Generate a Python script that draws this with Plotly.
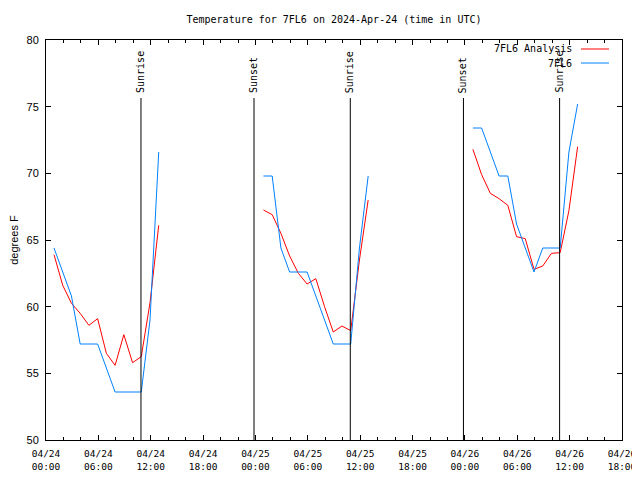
import plotly.graph_objects as go

# ---- data ----
day1_times = ["2024-04-24 00:55", "2024-04-24 01:55", "2024-04-24 02:55", "2024-04-24 03:55",
              "2024-04-24 04:55", "2024-04-24 05:55", "2024-04-24 06:55", "2024-04-24 07:55",
              "2024-04-24 08:55", "2024-04-24 09:55", "2024-04-24 10:55", "2024-04-24 11:55",
              "2024-04-24 12:55"]
day2_times = ["2024-04-25 00:55", "2024-04-25 01:55", "2024-04-25 02:55", "2024-04-25 03:55",
              "2024-04-25 04:55", "2024-04-25 05:55", "2024-04-25 06:55", "2024-04-25 07:55",
              "2024-04-25 08:55", "2024-04-25 09:55", "2024-04-25 10:55", "2024-04-25 11:55",
              "2024-04-25 12:55"]
day3_times = ["2024-04-26 00:55", "2024-04-26 01:55", "2024-04-26 02:55", "2024-04-26 03:55",
              "2024-04-26 04:55", "2024-04-26 05:55", "2024-04-26 06:55", "2024-04-26 07:55",
              "2024-04-26 08:55", "2024-04-26 09:55", "2024-04-26 10:55", "2024-04-26 11:55",
              "2024-04-26 12:55"]

analysis_day1 = [63.9, 61.6, 60.25, 59.5, 58.6, 59.1, 56.5, 55.6, 57.9, 55.8, 56.25, 60.3, 66.1]
analysis_day2 = [67.25, 66.9, 65.5, 63.8, 62.5, 61.7, 62.1, 60.0, 58.1, 58.55, 58.2, 63.5, 68.0]
analysis_day3 = [71.8, 69.9, 68.5, 68.1, 67.6, 65.25, 65.1, 62.8, 63.05, 64.0, 64.05, 67.2, 72.0]

obs_day1 = [64.4, 62.6, 60.8, 57.2, 57.2, 57.2, 55.4, 53.6, 53.6, 53.6, 53.6, 59.0, 71.6]
obs_day2 = [69.8, 69.8, 64.4, 62.6, 62.6, 62.6, 60.8, 59.0, 57.2, 57.2, 57.2, 64.4, 69.8]
obs_day3 = [73.4, 73.4, 71.6, 69.8, 69.8, 66.2, 64.4, 62.6, 64.4, 64.4, 64.4, 71.6, 75.2]

event_times = ["2024-04-24 10:53", "2024-04-24 23:50", "2024-04-25 10:52",
               "2024-04-25 23:50", "2024-04-26 10:51"]
event_labels = ["Sunrise", "Sunset", "Sunrise", "Sunset", "Sunrise"]

series_names = ["7FL6 Analysis", "7FL6"]
series_colors = ["#ff0000", "#0080ff"]

title_text = "Temperature for 7FL6 on 2024-Apr-24 (time in UTC)"
y_label = "degrees F"

MONO = "DejaVu Sans Mono"
SANS = "Liberation Sans"


def join(segments_x, segments_y):
    xs, ys = [], []
    for sx, sy in zip(segments_x, segments_y):
        if xs:
            xs.append(None)
            ys.append(None)
        xs.extend(sx)
        ys.extend(sy)
    return xs, ys


times = [day1_times, day2_times, day3_times]
ax, ay = join(times, [analysis_day1, analysis_day2, analysis_day3])
ox, oy = join(times, [obs_day1, obs_day2, obs_day3])

fig = go.Figure()
fig.add_trace(go.Scatter(x=ax, y=ay, mode="lines", name=series_names[0],
                         line=dict(color=series_colors[0], width=1), connectgaps=False,
                         showlegend=False))
fig.add_trace(go.Scatter(x=ox, y=oy, mode="lines", name=series_names[1],
                         line=dict(color=series_colors[1], width=1), connectgaps=False,
                         showlegend=False))

shapes = []
annotations = []
for t, lab in zip(event_times, event_labels):
    shapes.append(dict(type="line", xref="x", yref="paper", x0=t, x1=t, y0=0, y1=0.855,
                       line=dict(color="black", width=1)))
    annotations.append(dict(x=t, y=0.8625, xref="x", yref="paper", text=lab, textangle=-90,
                            showarrow=False, xanchor="center", yanchor="bottom",
                            font=dict(family=MONO, size=10, color="black")))

# legend drawn gnuplot-style (text left, sample right)
leg_y = [0.9775, 0.9425]
for name, col, yy in zip(series_names, series_colors, leg_y):
    annotations.append(dict(x=0.9167, y=yy, xref="paper", yref="paper", text=name,
                            showarrow=False, xanchor="right", yanchor="middle",
                            font=dict(family=MONO, size=10, color="black")))
    shapes.append(dict(type="line", xref="paper", yref="paper", x0=0.9288, x1=0.9774,
                       y0=yy, y1=yy, line=dict(color=col, width=1)))

# the page body adds an 8px offset; margins compensate so the plot lands where the reference has it
fig.update_layout(
    width=640, height=480,
    margin=dict(l=38, r=26, t=32, b=48, autoexpand=False),
    paper_bgcolor="white", plot_bgcolor="white",
    title=dict(text=title_text, x=0.5, xref="paper", y=1 - 11 / 480, yanchor="middle",
               font=dict(family=MONO, size=10, color="black")),
    shapes=shapes, annotations=annotations,
    showlegend=False,
)

fig.update_xaxes(
    type="date", range=["2024-04-24 00:00", "2024-04-26 18:00"],
    dtick=6 * 3600 * 1000, tick0="2024-04-24 00:00", tickformat="%m/%d<br>%H:%M",
    ticks="inside", ticklen=5, tickcolor="black", tickwidth=1,
    minor=dict(dtick=2 * 3600 * 1000, ticks="inside", ticklen=3, tickcolor="black", tickwidth=1),
    showline=True, linecolor="black", linewidth=1, mirror="allticks",
    showgrid=False, zeroline=False, automargin=False, ticklabelstandoff=5,
    tickfont=dict(family=MONO, size=9.5, color="black"),
)
fig.update_yaxes(
    range=[50, 80], dtick=5, tick0=50,
    ticks="inside", ticklen=5, tickcolor="black", tickwidth=1,
    showline=True, linecolor="black", linewidth=1, mirror="allticks",
    showgrid=False, zeroline=False, automargin=False, ticklabelstandoff=4,
    tickfont=dict(family=SANS, size=11, color="black"),
    title=dict(text=y_label, font=dict(family=SANS, size=11, color="black"), standoff=13),
)

fig.write_html("out.html")
